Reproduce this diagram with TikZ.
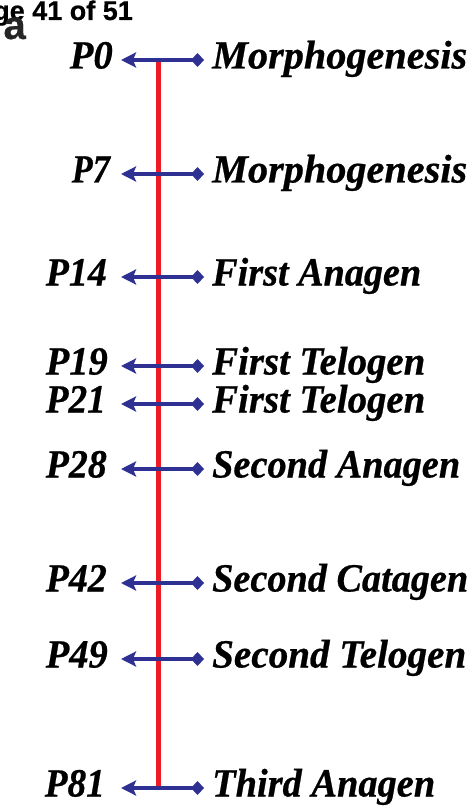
\documentclass[tikz,border=0pt]{standalone}
\usepackage{fontspec}
\usepackage{graphicx}
\setmainfont{Liberation Serif}
\newfontfamily\labelfont{Liberation Serif}[FakeBold=0.6]
\newfontfamily\headfont{Liberation Sans}[FakeBold=0.5]
\usetikzlibrary{arrows.meta}
\definecolor{tlblue}{HTML}{2E3192}
\definecolor{tlred}{HTML}{ED1C24}
\newcommand{\fitwidth}[2]{\resizebox{#1pt}{\height}{#2}}
\tikzset{
  daylabel/.style={anchor=east, inner xsep=0pt, inner ysep=0pt, text height=27pt, text depth=10pt,
    font=\labelfont\fontsize{40}{42}\selectfont\bfseries\itshape},
  stagelabel/.style={anchor=west, inner xsep=0pt, inner ysep=0pt, text height=27pt, text depth=10pt,
    font=\labelfont\fontsize{40}{42}\selectfont\bfseries\itshape},
  tlarrow/.style={draw=tlblue, line width=4.5pt, {Stealth[length=15pt,width=15pt,inset=3pt]}-{Diamond[length=13pt,width=14pt]}},
  tlline/.style={draw=tlred, line width=5pt}
}
\begin{document}
\begin{tikzpicture}[x=1pt,y=1pt]
\useasboundingbox (0,0) rectangle (472,-810);
\fill[white] (0,0) rectangle (472,-810);
% header fragments
\node[anchor=base east, inner sep=0pt, font=\headfont\fontsize{27}{29}\selectfont\bfseries] (hdr) at (133,-20) {Page 41 of 51};
\node[anchor=base east, inner sep=0pt, text=black!85, font=\headfont\fontsize{40}{42}\selectfont\bfseries] (lbl) at (26,-39) {a};
% timeline
\coordinate (top) at (158,-60);
\coordinate (bot) at (158,-788);
\draw[tlline] (top) -- (bot);
\foreach \nm/\y/\tx/\lw/\day/\rw/\stage in {
  a/60/113/43/P0/255/Morphogenesis,
  b/174/110/38/P7/255/Morphogenesis,
  c/277/107/61/P14/209/First Anagen,
  d/366/108/62/P19/213/First Telogen,
  e/404/106/60/P21/213/First Telogen,
  f/469/107/61/P28/248/Second Anagen,
  g/583/107/61/P42/256/Second Catagen,
  h/659/108/62/P49/254/Second Telogen,
  i/788/105/60/P81/223/Third Anagen}{
  \node[daylabel] (L\nm) at (\tx,-\y) {\fitwidth{\lw}{\day}};
  \node[stagelabel] (R\nm) at (212,-\y) {\fitwidth{\rw}{\stage}};
  \coordinate (LA\nm) at (121,-\y);
  \coordinate (RA\nm) at (204,-\y);
  \draw[tlarrow] (LA\nm) -- (RA\nm);
}
\end{tikzpicture}
\end{document}
